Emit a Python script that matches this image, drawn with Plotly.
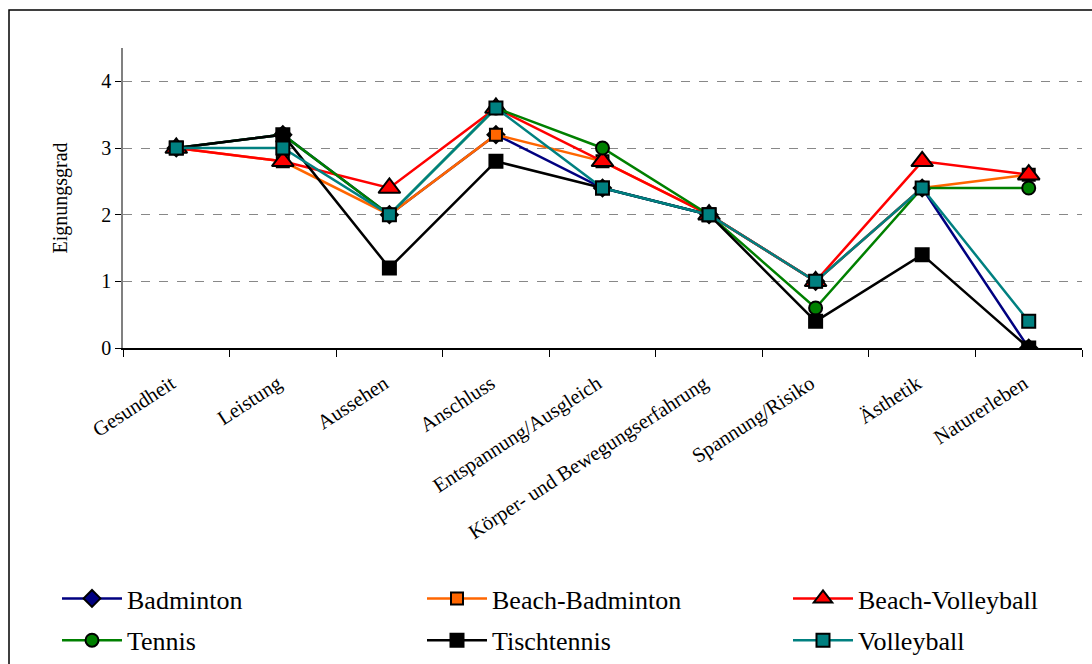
import plotly.graph_objects as go

# Kategorien (Motive) auf der x-Achse
categories = [
    "Gesundheit", "Leistung", "Aussehen", "Anschluss",
    "Entspannung/Ausgleich", "Körper- und Bewegungserfahrung",
    "Spannung/Risiko", "Ästhetik", "Naturerleben",
]

# Eignungsgrad je Sportart
badminton = [3.0, 3.2, 2.0, 3.2, 2.4, 2.0, 1.0, 2.4, 0.0]
beach_badminton = [3.0, 2.8, 2.0, 3.2, 2.8, 2.0, 1.0, 2.4, 2.6]
beach_volleyball = [3.0, 2.8, 2.4, 3.6, 2.8, 2.0, 1.0, 2.8, 2.6]
tennis = [3.0, 3.2, 2.0, 3.6, 3.0, 2.0, 0.6, 2.4, 2.4]
tischtennis = [3.0, 3.2, 1.2, 2.8, 2.4, 2.0, 0.4, 1.4, 0.0]
volleyball = [3.0, 3.0, 2.0, 3.6, 2.4, 2.0, 1.0, 2.4, 0.4]

y_ticks = [0, 1, 2, 3, 4]

# (Name, Werte, Farbe, Symbol, Größe, Legendenspalte)
series = [
    ("Badminton", badminton, "#000080", "diamond", 13, "legend"),
    ("Beach-Badminton", beach_badminton, "#FF6600", "square", 12, "legend2"),
    ("Beach-Volleyball", beach_volleyball, "#FF0000", "triangle-up", 19, "legend3"),
    ("Tennis", tennis, "#008000", "circle", 13, "legend"),
    ("Tischtennis", tischtennis, "#000000", "square", 13, "legend2"),
    ("Volleyball", volleyball, "#008080", "square", 13, "legend3"),
]

FONT = "Liberation Serif"

fig = go.Figure()
for i, (name, values, color, symbol, size, leg) in enumerate(series):
    fig.add_trace(go.Scatter(
        x=list(range(len(categories))),
        y=values,
        name=name,
        legend=leg,
        legendgroup=f"g{i}",
        mode="lines+markers",
        line=dict(color=color, width=2.5),
        marker=dict(symbol=symbol, size=size, color=color,
                    line=dict(color="#000000", width=2)),
    ))

W, H = 1092, 664
L, R, T, B = 123, 10, 48, 316
pw = W - L - R
ph = H - T - B

def px_x(x):
    return (x - L) / pw

def px_y(y):
    return (H - B - y) / ph

# äußerer Rahmen des Diagrammbereichs
fig.add_shape(type="rect", xref="paper", yref="paper",
              x0=px_x(9), x1=px_x(1110), y0=px_y(690), y1=px_y(10),
              line=dict(color="#000000", width=1.5), layer="below")

def legend_column(x_px):
    return dict(
        orientation="v",
        x=px_x(x_px), y=px_y(575), xanchor="left", yanchor="top",
        font=dict(family=FONT, size=26, color="#000000"),
        itemwidth=60,
        traceorder="grouped",
        tracegroupgap=5,
        bgcolor="rgba(0,0,0,0)",
    )

fig.update_layout(
    width=W, height=H,
    margin=dict(l=L, r=R, t=T, b=B, autoexpand=False),
    paper_bgcolor="white", plot_bgcolor="white",
    font=dict(family=FONT, size=20, color="#000000"),
    showlegend=True,
    legend=legend_column(57),
    legend2=legend_column(422),
    legend3=legend_column(788),
    xaxis=dict(
        tickmode="array",
        tickvals=list(range(len(categories))),
        ticktext=categories,
        range=[-0.5, len(categories) - 0.5],
        tickangle=-33,
        showgrid=False,
        showline=True, linecolor="#000000", linewidth=1.5,
        ticks="", zeroline=False,
        tickfont=dict(family=FONT, size=20.5),
        ticklabelstandoff=14,
        ticklabelshift=-5,
        minor=dict(tickmode="array",
                   tickvals=[i - 0.5 for i in range(len(categories) + 1)],
                   ticks="outside", ticklen=7, tickcolor="#000000",
                   tickwidth=1, showgrid=False),
    ),
    yaxis=dict(
        title=dict(text="Eignungsgrad", font=dict(family=FONT, size=20), standoff=28),
        range=[0, 4.5],
        tickvals=y_ticks,
        showgrid=True, gridcolor="#888888", griddash="dash", gridwidth=1,
        showline=True, linecolor="#808080", linewidth=1.5,
        ticks="outside", ticklen=6, tickcolor="#000000",
        zeroline=False,
        tickfont=dict(family=FONT, size=20),
    ),
)

fig.write_html("out.html")
